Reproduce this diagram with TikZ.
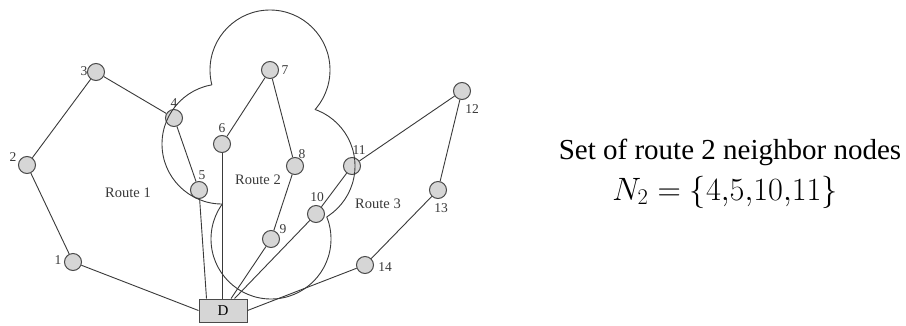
\documentclass[tikz,border=0pt]{standalone}
\usepackage{fontspec}
\setmainfont{Liberation Serif}
\definecolor{ln}{HTML}{3A3A3A}
\definecolor{nf}{HTML}{D6D6D6}
\definecolor{nb}{HTML}{4A4A4A}
\begin{document}
\begin{tikzpicture}[x=1pt,y=-1pt,
  vtx/.style={circle,draw=nb,fill=nf,line width=1pt,minimum size=17pt,inner sep=0pt},
  dbox/.style={rectangle,draw=nb,fill=nf,line width=1pt,minimum width=48pt,minimum height=23pt,inner sep=0pt,font=\fontsize{15}{17}\selectfont},
  lbl/.style={inner sep=0pt,text=ln,font=\fontsize{13.5}{15}\selectfont},
  rlbl/.style={inner sep=0pt,text=ln,font=\fontsize{14.5}{16}\selectfont},
  link/.style={draw=ln,line width=0.9pt},
  rt/.style={draw=ln,line width=0.9pt}]
\useasboundingbox[fill=white] (0,0) rectangle (906,325);
% nodes
\node[vtx] (n1) at (73,262) {};
\node[vtx] (n2) at (27,165) {};
\node[vtx] (n3) at (96,72) {};
\node[vtx] (n4) at (174,118) {};
\node[vtx] (n5) at (199,190) {};
\node[vtx] (n6) at (222,144) {};
\node[vtx] (n7) at (270,70) {};
\node[vtx] (n8) at (295,166) {};
\node[vtx] (n9) at (271,239) {};
\node[vtx] (n10) at (316,214) {};
\node[vtx] (n11) at (352,166) {};
\node[vtx] (n12) at (462,91) {};
\node[vtx] (n13) at (438,190) {};
\node[vtx] (n14) at (365,265) {};
\node[dbox] (D) at (223,310.5) {D};
% labels
\node[lbl] (l1) at (58,260) {1};
\node[lbl] (l2) at (13,157) {2};
\node[lbl] (l3) at (84,71) {3};
\node[lbl] (l4) at (174,103) {4};
\node[lbl] (l5) at (202,175) {5};
\node[lbl] (l6) at (222,128) {6};
\node[lbl] (l7) at (285,70) {7};
\node[lbl] (l8) at (302,154) {8};
\node[lbl] (l9) at (283,229) {9};
\node[lbl] (l10) at (317,197) {10};
\node[lbl] (l11) at (359,150) {11};
\node[lbl] (l12) at (472,109) {12};
\node[lbl] (l13) at (441,208) {13};
\node[lbl] (l14) at (385,267) {14};
\node[rlbl] (r1) at (128,193) {Route 1};
\node[rlbl] (r2) at (258,180) {Route 2};
\node[rlbl] (r3) at (378,204) {Route 3};
% connectors
\draw[link] (n3) -- (n2);
\draw[link] (n3) -- (n4);
\draw[link] (n2) -- (n1);
\draw[link] (n1) -- (D.west);
\draw[link] (n4) -- (n5);
\draw[link] (n5) -- ([xshift=8pt]D.north west);
\draw[link] (n6) -- (n6 |- D.north);
\draw[link] (n6) -- (n7);
\draw[link] (n7) -- (n8);
\draw[link] (n8) -- (n9);
\draw[link] (n9) -- (D);
\draw[link] (n10) -- (D);
\draw[link] (n10) -- (n11);
\draw[link] (n11) -- (n12);
\draw[link] (n12) -- (n13);
\draw[link] (n13) -- (n14);
\draw[link] (n14) -- (D.east);
% route 2 outline: boundary of union of circles around 6,7,8,9
\begin{scope}[even odd rule]
 \clip (0,0) rectangle (906,325) (n7) circle[radius=60];
 \clip (0,0) rectangle (906,325) (n8) circle[radius=60];
 \clip (0,0) rectangle (906,325) (n9) circle[radius=60];
 \draw[rt] (n6) circle[radius=60];
\end{scope}
\begin{scope}[even odd rule]
 \clip (0,0) rectangle (906,325) (n6) circle[radius=60];
 \clip (0,0) rectangle (906,325) (n8) circle[radius=60];
 \clip (0,0) rectangle (906,325) (n9) circle[radius=60];
 \draw[rt] (n7) circle[radius=60];
\end{scope}
\begin{scope}[even odd rule]
 \clip (0,0) rectangle (906,325) (n6) circle[radius=60];
 \clip (0,0) rectangle (906,325) (n7) circle[radius=60];
 \clip (0,0) rectangle (906,325) (n9) circle[radius=60];
 \draw[rt] (n8) circle[radius=60];
\end{scope}
\begin{scope}[even odd rule]
 \clip (0,0) rectangle (906,325) (n6) circle[radius=60];
 \clip (0,0) rectangle (906,325) (n7) circle[radius=60];
 \clip (0,0) rectangle (906,325) (n8) circle[radius=60];
 \draw[rt] (n9) circle[radius=60];
\end{scope}
% right text
\node[anchor=base,inner sep=0pt,font=\fontsize{29}{34}\selectfont] (t1) at (730,159) {Set of route 2 neighbor nodes};
\node[anchor=base,inner sep=0pt,font=\fontsize{24}{28}\selectfont] (t2) at (725,200) {\scalebox{1.3}{$N_2=\bigl\{4{,}5{,}10{,}11\bigr\}$}};
\end{tikzpicture}
\end{document}
